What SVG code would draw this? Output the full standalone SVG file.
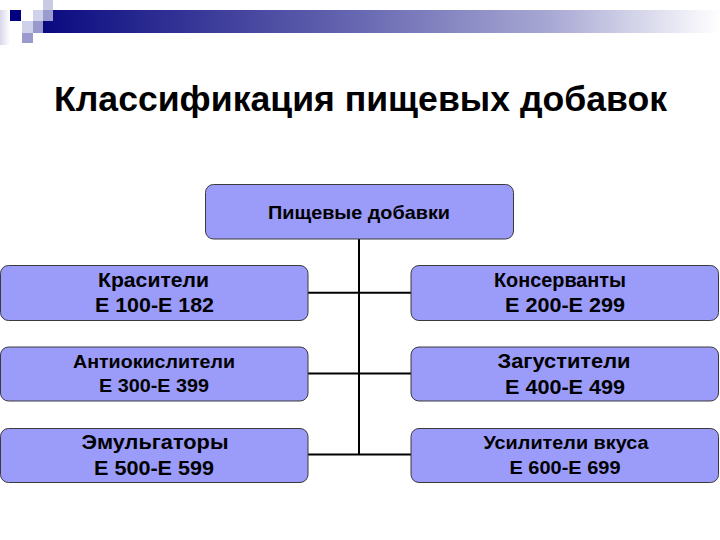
<svg xmlns="http://www.w3.org/2000/svg" width="720" height="540" viewBox="0 0 720 540">
<defs>
<linearGradient id="band" x1="43" y1="0" x2="720" y2="0" gradientUnits="userSpaceOnUse">
<stop offset="0" stop-color="#0a0a80"/>
<stop offset="0.45" stop-color="#6464b0"/>
<stop offset="0.75" stop-color="#a8a8d4"/>
<stop offset="1" stop-color="#ffffff"/>
</linearGradient>
<linearGradient id="edge" x1="0" y1="0" x2="1" y2="0">
<stop offset="0" stop-color="#d8d8ea"/>
<stop offset="1" stop-color="#ffffff"/>
</linearGradient>
<style>
.box{fill:#9b9bfa;stroke:#3a3a3a;stroke-width:1}
.t{font-family:"Liberation Sans",Arial,sans-serif;font-weight:bold;fill:#000;text-anchor:middle}
.big{font-size:20px}
.sm{font-size:17.5px}
.ln{stroke:#000;stroke-width:2;fill:none}
</style>
</defs>
<rect width="720" height="540" fill="#ffffff"/>
<g id="decor">
<rect x="0" y="10" width="10" height="35" fill="url(#edge)"/>
<rect x="43" y="10" width="677" height="23" fill="url(#band)"/>
<rect x="43" y="0" width="10" height="10" fill="#c9cbe3"/>
<rect x="10" y="10" width="11" height="11" fill="#000080"/>
<rect x="33" y="10" width="10" height="11" fill="#d0d2ec"/>
<rect x="43" y="10" width="10" height="11" fill="#9a9cd0"/>
<rect x="22" y="21" width="11" height="12" fill="#cfd1ea"/>
<rect x="33" y="21" width="10" height="12" fill="#9898cc"/>
<rect x="22" y="33" width="11" height="10" fill="#9a9acc"/>
</g>
<text id="title" class="t" x="360.5" y="110.5" font-size="35" textLength="613" lengthAdjust="spacingAndGlyphs">Классификация пищевых добавок</text>
<g id="connectors">
<line class="ln" x1="359" y1="239" x2="359" y2="455"/>
<line class="ln" x1="308" y1="292.7" x2="411" y2="292.7"/>
<line class="ln" x1="308" y1="373.5" x2="411" y2="373.5"/>
<line class="ln" x1="308" y1="454.5" x2="411" y2="454.5"/>
</g>
<g id="root">
<rect class="box" x="205.5" y="184.5" width="308" height="54.5" rx="8"/>
<text class="t" x="359" y="218.5" font-size="19" textLength="182" lengthAdjust="spacingAndGlyphs">Пищевые добавки</text>
</g>
<g id="n1">
<rect class="box" x="0.5" y="265.5" width="307.5" height="55" rx="8"/>
<text class="t big" x="153.5" y="287" textLength="111" lengthAdjust="spacingAndGlyphs">Красители</text>
<text class="t big" x="154.5" y="311.5" textLength="119" lengthAdjust="spacingAndGlyphs">Е 100-Е 182</text>
</g>
<g id="n2">
<rect class="box" x="411" y="265.5" width="307.5" height="55" rx="8"/>
<text class="t big" x="560" y="287" textLength="132" lengthAdjust="spacingAndGlyphs">Консерванты</text>
<text class="t big" x="565" y="311.5" textLength="120" lengthAdjust="spacingAndGlyphs">Е 200-Е 299</text>
</g>
<g id="n3">
<rect class="box" x="0.5" y="347" width="307.5" height="54" rx="8"/>
<text class="t sm" x="154" y="368" textLength="162" lengthAdjust="spacingAndGlyphs">Антиокислители</text>
<text class="t sm" x="154" y="392" textLength="110" lengthAdjust="spacingAndGlyphs">Е 300-Е 399</text>
</g>
<g id="n4">
<rect class="box" x="411" y="347" width="307.5" height="54" rx="8"/>
<text class="t big" x="564" y="368" textLength="133" lengthAdjust="spacingAndGlyphs">Загустители</text>
<text class="t big" x="565" y="393.5" textLength="120" lengthAdjust="spacingAndGlyphs">Е 400-Е 499</text>
</g>
<g id="n5">
<rect class="box" x="0.5" y="428.5" width="307.5" height="54" rx="8"/>
<text class="t big" x="155" y="448.5" textLength="147" lengthAdjust="spacingAndGlyphs">Эмульгаторы</text>
<text class="t big" x="154" y="475" textLength="120" lengthAdjust="spacingAndGlyphs">Е 500-Е 599</text>
</g>
<g id="n6">
<rect class="box" x="411" y="428.5" width="307.5" height="54" rx="8"/>
<text class="t sm" x="566" y="448.5" textLength="165" lengthAdjust="spacingAndGlyphs">Усилители вкуса</text>
<text class="t sm" x="565" y="473.5" textLength="111" lengthAdjust="spacingAndGlyphs">Е 600-Е 699</text>
</g>
</svg>
